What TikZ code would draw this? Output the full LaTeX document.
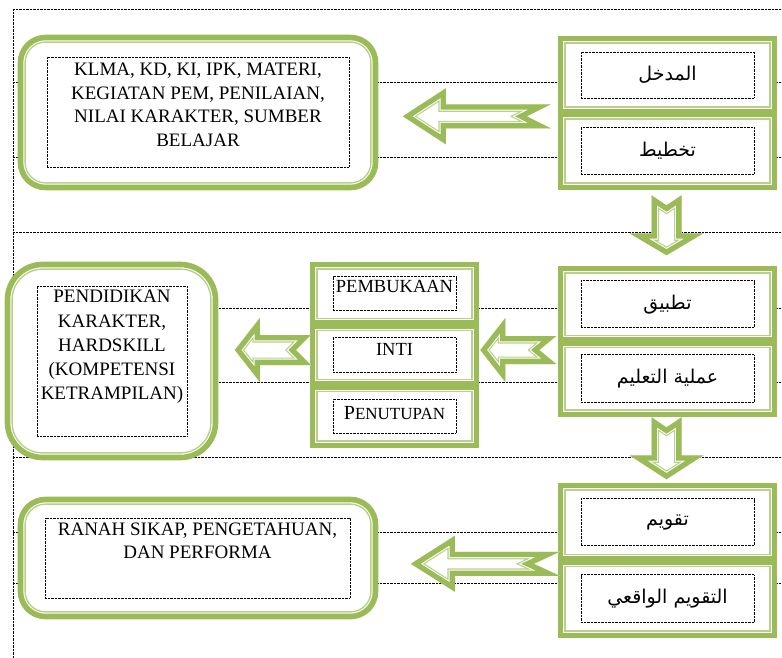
\documentclass[tikz,border=0pt]{standalone}
\usepackage{fontspec}
\setmainfont{Liberation Serif}
\newfontfamily\arabicfont[Script=Arabic]{DejaVu Sans}
\TeXXeTstate=1
\usetikzlibrary{positioning,calc}
\definecolor{leafgreen}{HTML}{9BBB59}
\definecolor{palegreen}{HTML}{B9D08A}

\tikzset{
  gridline/.style={line width=0.6pt, dash pattern=on 0.7pt off 0.7pt},
  dotbox/.style={draw, line width=0.6pt, dash pattern=on 0.7pt off 0.7pt, fill=white, inner sep=0pt},
  cell/.style={draw=leafgreen, line width=5.6pt, fill=white, minimum width=214pt, inner sep=0pt,
    path picture={\draw[palegreen, line width=1.4pt]
      ([shift={(4.6pt,4.6pt)}]path picture bounding box.south west) rectangle
      ([shift={(-4.6pt,-4.6pt)}]path picture bounding box.north east);}},
  outcome/.style={draw=leafgreen, line width=5.6pt, fill=white, inner sep=0pt, rounded corners=#1,
    path picture={\draw[palegreen, line width=1.4pt, rounded corners=#1-4.5pt]
      ([shift={(4.6pt,4.6pt)}]path picture bounding box.south west) rectangle
      ([shift={(-4.6pt,-4.6pt)}]path picture bounding box.north east);}},
  listtext/.style={align=center, inner sep=0pt, font=\fontsize{19}{23.5}\selectfont},
  steptext/.style={font=\fontsize{18.5}{22}\selectfont},
  arabic/.style={font=\arabicfont\fontsize{19}{22}\selectfont},
}

% block arrow: tip, angle, length, head half, shaft half, head length, notch
\newcommand{\flowarrow}[7]{%
  \begin{scope}[shift={(#1)}, rotate=#2]
    \def\arrowoutline{(0,0) -- (#6,#4) -- (#6,#5) -- (#3,#5) -- (#3-#7,0)
      -- (#3,-#5) -- (#6,-#5) -- (#6,-#4) -- cycle}
    \begin{scope}
      \clip \arrowoutline;
      \fill[white] \arrowoutline;
      \draw[palegreen, line width=15pt] \arrowoutline;
      \draw[white, line width=12.6pt] \arrowoutline;
      \draw[leafgreen, line width=10.6pt] \arrowoutline;
    \end{scope}
  \end{scope}}

\begin{document}
\begin{tikzpicture}[x=1pt, y=-1pt]
  \useasboundingbox (0,0) rectangle (782,658);

  % table lines
  \foreach \y in {9,82,157,232,308,382,457,532,583}
    \draw[gridline] (13,\y) -- (782,\y);
  \draw[gridline] (13,9) -- (13,658);

  % planning
  \node[outcome=25pt, minimum width=355pt, minimum height=150pt] (planbox) at (198,112.5) {};
  \node[dotbox, minimum width=302pt, minimum height=110pt] (plandot) at (198,112) {};
  \node[listtext, below=6.5pt of plandot.north] (plantext)
    {KLMA, KD, KI, IPK, MATERI,\\ KEGIATAN PEM, PENILAIAN,\\ NILAI KARAKTER, SUMBER\\ BELAJAR};
  \node[cell, minimum height=73pt] (plan1) at (667.5,75) {};
  \node[cell, minimum height=73pt] (plan2) at (667.5,151) {};
  \node[dotbox, arabic, minimum width=173pt, minimum height=46pt] (plan1dot) at (plan1) {\beginR المدخل\endR};
  \node[dotbox, arabic, minimum width=173pt, minimum height=47pt] (plan2dot) at (plan2) {\beginR تخطيط\endR};

  % implementation
  \node[outcome=35pt, minimum width=208pt, minimum height=193pt] (skillbox) at (111.5,361) {};
  \node[dotbox, minimum width=150pt, minimum height=150pt] (skilldot) at (112,361) {};
  \node[listtext, font=\fontsize{19}{24.2}\selectfont, below=4.5pt of skilldot.north] (skilltext)
    {PENDIDIKAN\\ KARAKTER,\\ HARDSKILL\\ (KOMPETENSI\\ KETRAMPILAN)};
  \node[cell, minimum width=164pt, minimum height=58.3pt] (open) at (394.5,293.7) {};
  \node[cell, minimum width=164pt, minimum height=58.3pt] (core) at (394.5,355) {};
  \node[cell, minimum width=164pt, minimum height=58.3pt] (close) at (394.5,416.3) {};
  \node[dotbox, steptext, text depth=14pt, minimum width=123pt, minimum height=34pt] (opendot) at (open) {PEMBUKAAN};
  \node[dotbox, steptext, text depth=11pt, minimum width=123pt, minimum height=35pt] (coredot) at (core) {INTI};
  \node[dotbox, steptext, text depth=6pt, minimum width=123pt, minimum height=34pt] (closedot) at (close)
    {{\fontsize{20}{22}\selectfont P}{\fontsize{17}{20}\selectfont ENUTUPAN}};
  \node[cell, minimum height=71.5pt] (apply1) at (667.5,304.25) {};
  \node[cell, minimum height=71.5pt] (apply2) at (667.5,378.75) {};
  \node[dotbox, arabic, minimum width=173pt, minimum height=47pt] (apply1dot) at (apply1) {\beginR تطبيق\endR};
  \node[dotbox, arabic, minimum width=173pt, minimum height=48pt] (apply2dot) at (apply2) {\beginR عملية التعليم\endR};

  % assessment
  \node[outcome=25pt, minimum width=355pt, minimum height=117pt] (evalbox) at (198,558) {};
  \node[dotbox, minimum width=305pt, minimum height=80pt] (evaldot) at (197.5,558) {};
  \node[listtext, below=5pt of evaldot.north] (evaltext)
    {RANAH SIKAP, PENGETAHUAN,\\ DAN PERFORMA};
  \node[cell, minimum height=73.5pt] (eval1) at (667.5,522.25) {};
  \node[cell, minimum height=73.5pt] (eval2) at (667.5,598.75) {};
  \node[dotbox, arabic, minimum width=173pt, minimum height=47pt] (eval1dot) at (eval1) {\beginR تقويم\endR};
  \node[dotbox, arabic, minimum width=173pt, minimum height=48pt] (eval2dot) at (eval2) {\beginR التقويم الواقعي\endR};

  % arrows
  \coordinate (plantip) at ($(planbox.east |- plan1.south)+(24.5,2)$);
  \coordinate (opentip) at ($(skillbox.east |- core)+(16.5,-5)$);
  \coordinate (coretip) at ($(core.east |- core)+(1,-5)$);
  \coordinate (evaltip) at ($(evalbox.east |- eval1.south)+(32.5,2)$);
  \coordinate (downtip1) at ($(plan2.south)+(-1,65)$);
  \coordinate (downtip2) at ($(apply2.south)+(-1,62)$);
  \flowarrow{plantip}{0}{148}{28}{12}{43}{24}
  \flowarrow{opentip}{0}{76}{32}{15}{25}{15}
  \flowarrow{coretip}{0}{76}{32}{14}{25}{17}
  \flowarrow{evaltip}{0}{149}{28}{12}{44}{26}
  \flowarrow{downtip1}{90}{60}{37}{15}{22}{10}
  \flowarrow{downtip2}{90}{62}{37}{15}{24}{10}
\end{tikzpicture}
\end{document}
